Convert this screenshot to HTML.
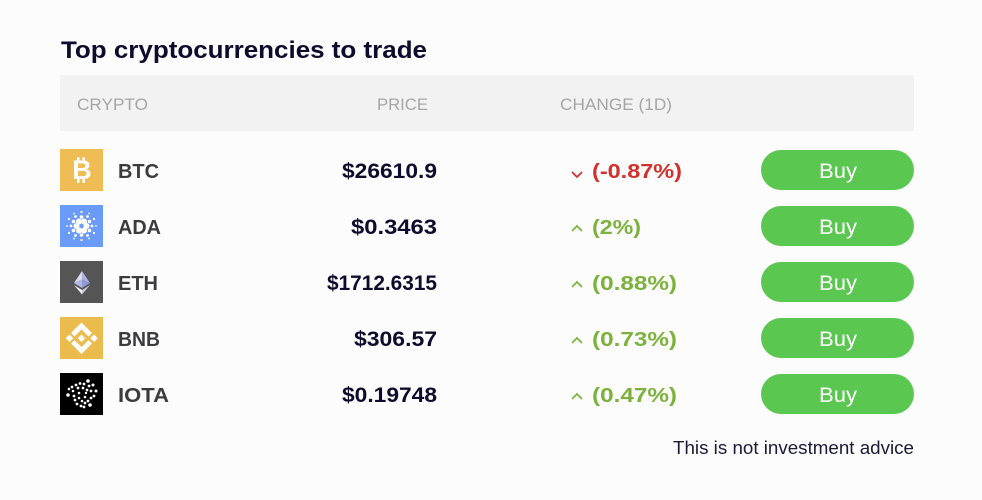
<!DOCTYPE html>
<html lang="en">
<head>
<meta charset="utf-8">
<title>Top cryptocurrencies to trade</title>
<style>
html,body{margin:0;padding:0;width:982px;height:500px;overflow:hidden;background:#fcfcfc}
svg{display:block}
text{font-family:"Liberation Sans",sans-serif}
.h{font-size:17px;fill:#a6a6a6}
.sym{font-size:20px;font-weight:700;fill:#3c3c3e}
.price{font-size:21px;font-weight:700;fill:#0e0b2d}
.chg{font-size:20px;font-weight:700}
.up{fill:#7cb13c}
.down{fill:#d1302c}
.buy{font-size:21px;fill:#fff}
.btn{fill:#5ac751}
.a{fill:none;stroke-width:1.7}
</style>
</head>
<body>
<svg width="982" height="500" viewBox="0 0 982 500">
<rect width="982" height="500" fill="#fcfcfc"/>
<text x="61" y="58" font-size="24" font-weight="700" fill="#0e0b2d" textLength="366" lengthAdjust="spacingAndGlyphs">Top cryptocurrencies to trade</text>

<rect x="60" y="75" width="854" height="56" fill="#f2f2f2"/>
<text class="h" x="77" y="110" textLength="71" lengthAdjust="spacingAndGlyphs">CRYPTO</text>
<text class="h" x="377" y="110" textLength="51" lengthAdjust="spacingAndGlyphs">PRICE</text>
<text class="h" x="560" y="110" textLength="112" lengthAdjust="spacingAndGlyphs">CHANGE (1D)</text>

<!-- BTC -->
<g>
<g>
<rect x="60" y="149" width="43" height="42" fill="#f0bd54"/>
<text x="82" y="179" text-anchor="middle" font-size="27" font-weight="700" fill="#fff">B</text>
<rect x="77" y="157" width="2.500" height="4" fill="#fff"/><rect x="82.500" y="157" width="2.500" height="4" fill="#fff"/>
<rect x="77" y="178" width="2.500" height="5" fill="#fff"/><rect x="82.500" y="178" width="2.500" height="5" fill="#fff"/>
</g>
<text class="sym" x="118" y="178" textLength="41" lengthAdjust="spacingAndGlyphs">BTC</text>
<text class="price" x="342" y="178" textLength="95" lengthAdjust="spacingAndGlyphs">$26610.9</text>
<polyline class="a" points="572,172 577,177 582,172" stroke="#d1302c"/>
<text class="chg down" x="592" y="178" textLength="90" lengthAdjust="spacingAndGlyphs">(-0.87%)</text>
<rect class="btn" x="761" y="150" width="153" height="40" rx="20"/>
<text class="buy" x="819" y="178" textLength="38" lengthAdjust="spacingAndGlyphs">Buy</text>
</g>

<!-- ADA -->
<g>
<g fill="#fff">
<rect x="60" y="205" width="43" height="42" fill="#6b9bf8"/>
<circle cx="76.500" cy="226" r="3"/><circle cx="86.500" cy="226" r="3"/><circle cx="79" cy="221.500" r="3"/><circle cx="84" cy="221.500" r="3"/><circle cx="79" cy="230.500" r="3"/><circle cx="84" cy="230.500" r="3"/>
<circle cx="81.500" cy="217" r="1.800"/><circle cx="81.500" cy="235" r="1.800"/><circle cx="73.500" cy="221.500" r="1.800"/><circle cx="89.500" cy="221.500" r="1.800"/><circle cx="73.500" cy="230.500" r="1.800"/><circle cx="89.500" cy="230.500" r="1.800"/>
<circle cx="71" cy="226" r="1.400"/><circle cx="92" cy="226" r="1.400"/><circle cx="75.500" cy="216.500" r="1.400"/><circle cx="87.500" cy="216.500" r="1.400"/><circle cx="75.500" cy="235.500" r="1.400"/><circle cx="87.500" cy="235.500" r="1.400"/>
<circle cx="81.500" cy="212" r="1.100"/><circle cx="81.500" cy="240" r="1.100"/><circle cx="69" cy="219" r="1.100"/><circle cx="94" cy="219" r="1.100"/><circle cx="69" cy="233" r="1.100"/><circle cx="94" cy="233" r="1.100"/>
<circle cx="67" cy="226" r=".9"/><circle cx="96" cy="226" r=".9"/><circle cx="74" cy="213.500" r=".9"/><circle cx="89" cy="213.500" r=".9"/><circle cx="74" cy="238.500" r=".9"/><circle cx="89" cy="238.500" r=".9"/>
</g>
<text class="sym" x="118" y="234" textLength="43" lengthAdjust="spacingAndGlyphs">ADA</text>
<text class="price" x="351" y="234" textLength="86" lengthAdjust="spacingAndGlyphs">$0.3463</text>
<polyline class="a" points="572,231 577,226 582,231" stroke="#7cb13c"/>
<text class="chg up" x="592" y="234" textLength="49" lengthAdjust="spacingAndGlyphs">(2%)</text>
<rect class="btn" x="761" y="206" width="153" height="40" rx="20"/>
<text class="buy" x="819" y="234" textLength="38" lengthAdjust="spacingAndGlyphs">Buy</text>
</g>

<!-- ETH -->
<g>
<g>
<rect x="60" y="261" width="43" height="42" fill="#555555"/>
<polygon points="82,271 74,283 82,279.500" fill="#dcdce8"/>
<polygon points="82,271 90,283 82,279.500" fill="#a9b1de"/>
<polygon points="74,283 82,279.500 82,288" fill="#b1b7e4"/>
<polygon points="90,283 82,279.500 82,288" fill="#8f9ad6"/>
<polygon points="74,285 82,290 82,294.500" fill="#f0f0f4"/>
<polygon points="90,285 82,290 82,294.500" fill="#c4c8de"/>
</g>
<text class="sym" x="118" y="290" textLength="40" lengthAdjust="spacingAndGlyphs">ETH</text>
<text class="price" x="327" y="290" textLength="110" lengthAdjust="spacingAndGlyphs">$1712.6315</text>
<polyline class="a" points="572,287 577,282 582,287" stroke="#7cb13c"/>
<text class="chg up" x="592" y="290" textLength="85" lengthAdjust="spacingAndGlyphs">(0.88%)</text>
<rect class="btn" x="761" y="262" width="153" height="40" rx="20"/>
<text class="buy" x="819" y="290" textLength="38" lengthAdjust="spacingAndGlyphs">Buy</text>
</g>

<!-- BNB -->
<g>
<g fill="#fff">
<rect x="60" y="317" width="43" height="42" fill="#ecbb4e"/>
<polygon points="81.500,322.500 92,333 88.500,336.500 81.500,329.500 74.500,336.500 71,333"/>
<polygon points="81.500,354 92,343.500 88.500,340 81.500,347 74.500,340 71,343.500"/>
<polygon points="81.500,334.500 85.300,338.300 81.500,342 77.700,338.300"/>
<polygon points="69.500,334.500 73.300,338.300 69.500,342 65.700,338.300"/>
<polygon points="94,334.500 97.800,338.300 94,342 90.200,338.300"/>
</g>
<text class="sym" x="118" y="346" textLength="42" lengthAdjust="spacingAndGlyphs">BNB</text>
<text class="price" x="354" y="346" textLength="83" lengthAdjust="spacingAndGlyphs">$306.57</text>
<polyline class="a" points="572,343 577,338 582,343" stroke="#7cb13c"/>
<text class="chg up" x="592" y="346" textLength="85" lengthAdjust="spacingAndGlyphs">(0.73%)</text>
<rect class="btn" x="761" y="318" width="153" height="40" rx="20"/>
<text class="buy" x="819" y="346" textLength="38" lengthAdjust="spacingAndGlyphs">Buy</text>
</g>

<!-- IOTA -->
<g>
<g fill="#fff">
<rect x="60" y="373" width="43" height="42" fill="#000"/>
<circle cx="88" cy="381" r="1.800"/><circle cx="93" cy="385" r="1.500"/><circle cx="96" cy="391" r="1.500"/><circle cx="89" cy="386" r="1.400"/>
<circle cx="84" cy="384" r="1.400"/><circle cx="80" cy="383.500" r="1.400"/><circle cx="76" cy="385" r="1.400"/><circle cx="72" cy="387" r="1.400"/><circle cx="69" cy="389" r="1.300"/>
<circle cx="78" cy="388" r="1.400"/><circle cx="83" cy="388" r="1.400"/><circle cx="87" cy="390" r="1.400"/><circle cx="91" cy="391" r="1.400"/><circle cx="73" cy="391" r="1.300"/>
<circle cx="94" cy="396" r="1.400"/><circle cx="91" cy="398" r="1.400"/><circle cx="88" cy="401" r="1.400"/><circle cx="85" cy="403" r="1.400"/><circle cx="90" cy="405" r="1.800"/>
<circle cx="68" cy="395" r="1.800"/><circle cx="74" cy="396" r="1.400"/><circle cx="75" cy="400" r="1.400"/><circle cx="77" cy="404" r="1.400"/><circle cx="81" cy="406" r="1.400"/><circle cx="84" cy="407" r="1.400"/>
<circle cx="79" cy="393" r="1.300"/><circle cx="79" cy="398" r="1.300"/><circle cx="82" cy="401" r="1.300"/><circle cx="85" cy="397" r="1.300"/><circle cx="86" cy="393" r="1.200"/>
</g>
<text class="sym" x="118" y="402" textLength="51" lengthAdjust="spacingAndGlyphs">IOTA</text>
<text class="price" x="342" y="402" textLength="95" lengthAdjust="spacingAndGlyphs">$0.19748</text>
<polyline class="a" points="572,399 577,394 582,399" stroke="#7cb13c"/>
<text class="chg up" x="592" y="402" textLength="85" lengthAdjust="spacingAndGlyphs">(0.47%)</text>
<rect class="btn" x="761" y="374" width="153" height="40" rx="20"/>
<text class="buy" x="819" y="402" textLength="38" lengthAdjust="spacingAndGlyphs">Buy</text>
</g>

<text x="673" y="454" font-size="18" fill="#1c1a35" textLength="241" lengthAdjust="spacingAndGlyphs">This is not investment advice</text>
</svg>
</body>
</html>
